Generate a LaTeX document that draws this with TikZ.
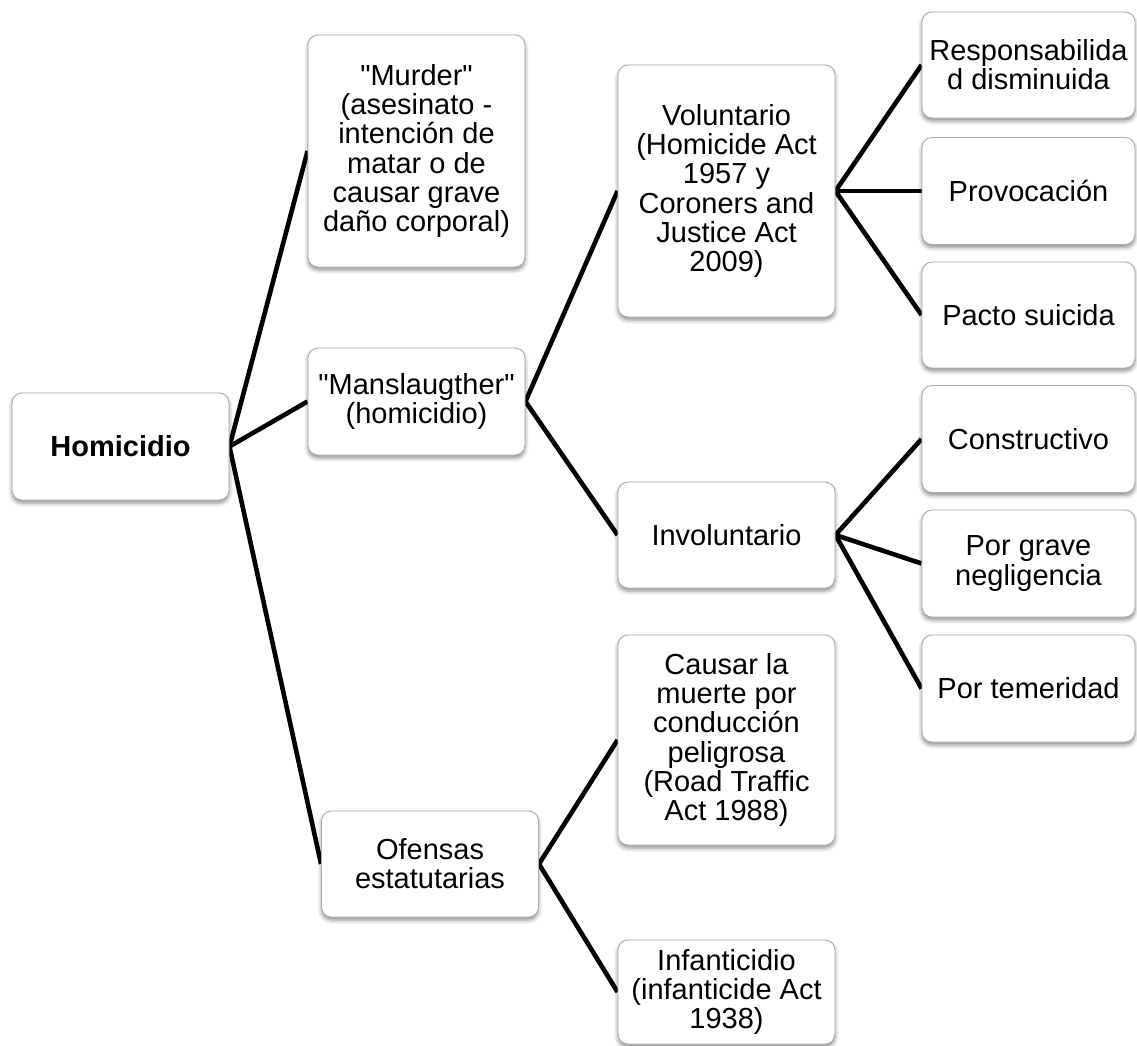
\documentclass[tikz,border=0pt]{standalone}
\usepackage{fontspec}
\setmainfont{Liberation Sans}[Ligatures=TeXOff]
\usetikzlibrary{shadows.blur,backgrounds}

\tikzset{
  card/.style={
    rectangle, rounded corners=10pt, draw=gray!65, line width=0.9pt,
    fill=white, align=center, inner sep=0pt,
    font=\fontsize{29pt}{29.2pt}\selectfont,
    blur shadow={shadow xshift=0pt, shadow yshift=-3pt,
                 shadow blur radius=4pt, shadow opacity=45}
  },
  wide/.style={card, minimum width=217pt},
  narrow/.style={card, minimum width=213pt},
  link/.style={draw=black, line width=4.6pt}
}

\begin{document}
\begin{tikzpicture}[x=1pt, y=-1pt]
\useasboundingbox (0,0) rectangle (1137,1045);

% root
\node[wide, minimum height=107pt, font=\fontsize{29pt}{29.2pt}\selectfont\bfseries]
  (hom) at (120.5,446.5) {Homicidio};

% first level
\node[wide, minimum height=232pt] (mur) at (416.5,151)
  {"Murder"\\(asesinato -\\intención de\\matar o de\\causar grave\\daño corporal)};
\node[wide, minimum height=107pt] (man) at (416.5,401.5)
  {"Manslaugther"\\(homicidio)};
\node[wide, minimum height=106pt] (ofe) at (430,864)
  {Ofensas\\estatutarias};

% second level
\node[wide, minimum height=252pt] (vol) at (726.5,191)
  {Voluntario\\(Homicide Act\\1957 y\\Coroners and\\Justice Act\\2009)};
\node[wide, minimum height=106pt] (inv) at (726.5,535) {Involuntario};
\node[wide, minimum height=210pt] (cau) at (726.5,740)
  {Causar la\\muerte por\\conducción\\peligrosa\\(Road Traffic\\Act 1988)};
\node[wide, minimum height=104pt] (inf) at (726.5,992)
  {Infanticidio\\(infanticide Act\\1938)};

% third level
\node[narrow, minimum height=106pt] (res) at (1028.5,65)
  {Responsabilida\\d disminuida};
\node[narrow, minimum height=107pt] (pro) at (1028.5,191) {Provocación};
\node[narrow, minimum height=106pt] (pac) at (1028.5,315) {Pacto suicida};
\node[narrow, minimum height=107pt] (con) at (1028.5,439) {Constructivo};
\node[narrow, minimum height=107pt] (gra) at (1028.5,563.5)
  {Por grave\\negligencia};
\node[narrow, minimum height=107pt] (tem) at (1028.5,688.5) {Por temeridad};

% connectors
\begin{pgfonlayer}{background}
\draw[link] (hom.east) -- (mur.west);
\draw[link] (hom.east) -- (man.west);
\draw[link] (hom.east) -- (ofe.west);
\draw[link] (man.east) -- (vol.west);
\draw[link] (man.east) -- (inv.west);
\draw[link] (ofe.east) -- (cau.west);
\draw[link] (ofe.east) -- (inf.west);
\draw[link] (vol.east) -- (res.west);
\draw[link] (vol.east) -- (pro.west);
\draw[link] (vol.east) -- (pac.west);
\draw[link] (inv.east) -- (con.west);
\draw[link] (inv.east) -- (gra.west);
\draw[link] (inv.east) -- (tem.west);
\end{pgfonlayer}
\end{tikzpicture}
\end{document}
